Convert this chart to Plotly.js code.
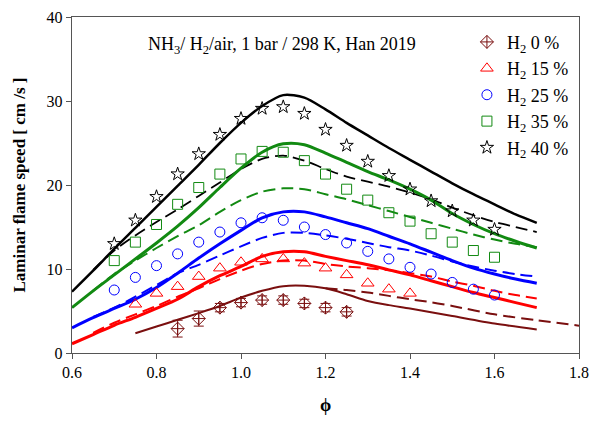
<!DOCTYPE html>
<html>
<head>
<meta charset="utf-8">
<script src="https://cdn.plot.ly/plotly-3.0.1.min.js"></script>
<style>html,body{margin:0;padding:0;background:#fff;}#chart{width:595px;height:424px;}</style>
</head>
<body>
<div id="chart"></div>
<script>
// ---- Measured data (equivalence ratio phi vs laminar flame speed, cm/s) ----
const phiExp40 = [0.7,0.75,0.8,0.85,0.9,0.95,1.0,1.05,1.1,1.15,1.2,1.25,1.3,1.35,1.4,1.45,1.5,1.55,1.6];
const sExp40   = [13.0,15.8,18.6,21.3,23.7,26.0,27.9,29.1,29.3,28.5,26.6,24.7,22.8,21.1,19.5,18.1,16.9,15.8,14.7];
const phiExp35 = [0.7,0.75,0.8,0.85,0.9,0.95,1.0,1.05,1.1,1.15,1.2,1.25,1.3,1.35,1.4,1.45,1.5,1.55,1.6];
const sExp35   = [11.0,13.2,15.3,17.7,19.7,21.3,23.1,24.0,23.9,22.9,21.3,19.5,18.2,16.7,15.7,14.2,13.2,12.2,11.4];
const phiExp25 = [0.7,0.75,0.8,0.85,0.9,0.95,1.0,1.05,1.1,1.15,1.2,1.25,1.3,1.35,1.4,1.45,1.5,1.55,1.6];
const sExp25   = [7.5,9.0,10.4,11.8,13.2,14.4,15.5,16.1,15.8,15.0,14.1,13.1,12.1,11.2,10.2,9.4,8.4,7.6,6.9];
const phiExp15 = [0.75,0.8,0.85,0.9,0.95,1.0,1.05,1.1,1.15,1.2,1.25,1.3,1.35,1.4];
const sExp15   = [5.8,7.1,7.9,9.1,10.1,10.8,11.2,11.2,10.7,10.1,9.3,8.3,7.6,7.1];
const phiExp0  = [0.85,0.9,0.95,1.0,1.05,1.1,1.15,1.2,1.25];
const sExp0    = [2.9,4.1,5.4,6.0,6.3,6.3,5.9,5.4,4.9];
const errExp0  = [1.0,0.9,0.5,0.5,0.5,0.5,0.5,0.5,0.5];

// ---- Model curves (solid and dashed) ----
const phiModel = [0.6,0.65,0.7,0.75,0.8,0.85,0.9,0.95,1.0,1.05,1.1,1.15,1.2,1.25,1.3,1.35,1.4,1.45,1.5,1.55,1.6,1.65,1.7];
const solid40 = [7.3,9.8,12.4,14.9,17.4,19.9,22.4,25.0,27.4,29.4,30.7,30.4,29.0,27.4,25.9,24.4,23.0,21.6,20.2,18.9,17.7,16.5,15.5];
const solid35 = [5.4,7.4,9.3,11.2,13.1,15.1,17.3,19.7,22.0,23.9,24.9,24.8,23.8,22.7,21.6,20.6,19.5,18.2,16.6,15.3,14.2,13.3,12.5];
const solid25 = [3.0,4.2,5.3,6.4,7.8,9.5,11.3,13.0,14.6,16.1,16.8,16.8,16.2,15.5,14.8,13.9,13.0,12.0,11.0,10.1,9.4,8.8,8.3];
const solid15 = [1.1,2.2,3.3,4.25,5.3,6.4,7.9,9.2,10.3,11.5,12.05,12.05,11.5,11.0,10.5,9.9,9.3,8.6,7.9,7.2,6.6,6.0,5.4];

const phiDash = [0.65,0.7,0.75,0.8,0.85,0.9,0.95,1.0,1.05,1.1,1.15,1.2,1.25,1.3,1.35,1.4,1.45,1.5,1.55,1.6,1.65,1.7];
const dash40 = [9.9,12.2,14.0,15.6,17.1,18.7,20.3,21.9,23.1,23.5,22.9,21.9,21.0,20.4,19.8,19.1,18.3,17.3,16.4,15.6,15.0,14.4];
const dash35 = [7.4,9.4,11.0,12.5,13.9,15.2,16.8,18.2,19.2,19.6,19.5,18.9,18.3,17.6,16.9,16.2,15.5,14.8,14.1,13.5,13.0,12.6];
const dash25 = [4.3,5.4,6.7,8.1,9.5,10.5,11.6,12.7,13.7,14.3,14.3,14.0,13.6,13.1,12.6,12.2,11.6,10.9,10.3,9.8,9.4,9.1];
const dash15 = [2.4,3.6,4.6,5.6,6.7,7.7,8.8,9.8,10.6,11.0,11.0,10.6,10.3,10.1,9.85,9.5,9.1,8.5,8.0,7.4,6.9,6.5];

const phiSolid0 = [0.75,0.8,0.85,0.9,0.95,1.0,1.05,1.1,1.15,1.2,1.25,1.3,1.35,1.4,1.5,1.6,1.7];
const solid0    = [2.35,3.15,3.95,4.75,5.6,6.6,7.4,7.95,8.0,7.7,7.0,6.2,5.7,5.3,4.4,3.5,2.8];
const phiDash0  = [1.2,1.25,1.3,1.35,1.4,1.45,1.5,1.6,1.7,1.8];
const dash0     = [7.7,7.5,7.2,6.8,6.4,6.05,5.6,4.6,3.9,3.25];

const legendNames = ['H<sub>2</sub> 0 %','H<sub>2</sub> 15 %','H<sub>2</sub> 25 %','H<sub>2</sub> 35 %','H<sub>2</sub> 40 %'];
const colors = {c0:'#7a0f0f', c15:'#ff0000', c25:'#0000ff', c35:'#128a12', c40:'#000000'};

const DASH = '12px,6px';
function line(x, y, color, width, dash) {
  return {x:x, y:y, type:'scatter', mode:'lines', showlegend:false, hoverinfo:'skip',
          line:{color:color, width:width, dash:dash || 'solid', shape:'spline', smoothing:0.8}};
}
function pts(x, y, color, symbol, size, name, group, extra) {
  const t = {x:x, y:y, type:'scatter', mode:'markers', name:name, legendgroup:group,
             marker:{symbol:symbol, size:size, color:color, line:{color:color, width:1}}};
  return Object.assign(t, extra || {});
}

const data = [
  line(phiModel, solid40, colors.c40, 2.5),
  line(phiDash, dash40, colors.c40, 1.8, DASH),
  line(phiModel, solid35, colors.c35, 3),
  line(phiDash, dash35, colors.c35, 2, DASH),
  line(phiModel, solid25, colors.c25, 3),
  line(phiDash, dash25, colors.c25, 2, DASH),
  line(phiModel, solid15, colors.c15, 3),
  line(phiDash, dash15, colors.c15, 2, DASH),
  line(phiSolid0, solid0, colors.c0, 2),
  line(phiDash0, dash0, colors.c0, 2, DASH),
  pts(phiExp0, sExp0, colors.c0, 'diamond-cross-open', 10, legendNames[0], 'g0',
      {error_y:{type:'data', array:errExp0, visible:true, color:colors.c0, thickness:1, width:5}}),
  pts(phiExp15, sExp15, colors.c15, 'triangle-up-open', 11, legendNames[1], 'g1'),
  pts(phiExp25, sExp25, colors.c25, 'circle-open', 10, legendNames[2], 'g2'),
  pts(phiExp35, sExp35, colors.c35, 'square-open', 10, legendNames[3], 'g3'),
  pts(phiExp40, sExp40, colors.c40, 'star-open', 10, legendNames[4], 'g4')
];

const FAM = 'Liberation Serif, Times New Roman, serif';
function f(size) { return {family:FAM, size:size, color:'#000'}; }
const layout = {
  width:595, height:424,
  margin:{l:72, r:16, t:17, b:71},
  paper_bgcolor:'#fff', plot_bgcolor:'#fff',
  font:f(16),
  showlegend:true,
  legend:{x:0.99, y:0.98, xanchor:'right', yanchor:'top', bgcolor:'rgba(0,0,0,0)',
          font:f(18), tracegroupgap:0, itemwidth:30},
  xaxis:{range:[0.6,1.8], tickvals:[0.6,0.8,1.0,1.2,1.4,1.6,1.8], ticktext:['0.6','0.8','1.0','1.2','1.4','1.6','1.8'],
         showgrid:false, zeroline:false, showline:true, linecolor:'#555', linewidth:1.2, mirror:true,
         ticks:'outside', ticklen:5, tickcolor:'#555', tickfont:f(16),
         title:{text:'<b>ϕ</b>', font:f(18), standoff:18}},
  yaxis:{range:[0,40], tickvals:[0,10,20,30,40],
         showgrid:false, zeroline:false, showline:true, linecolor:'#555', linewidth:1.2, mirror:true,
         ticks:'outside', ticklen:5, tickcolor:'#555', tickfont:f(16),
         title:{text:'<b>Laminar flame speed [ cm /s ]</b>', font:f(17), standoff:16}},
  annotations:[{xref:'paper', yref:'paper', x:0.415, y:0.915, xanchor:'center', yanchor:'middle', showarrow:false,
                text:'NH<sub>3</sub>/ H<sub>2</sub>/air, 1 bar / 298 K, Han 2019', font:f(18)}]
};
Plotly.newPlot('chart', data, layout, {displayModeBar:false, staticPlot:true});
</script>
</body>
</html>
